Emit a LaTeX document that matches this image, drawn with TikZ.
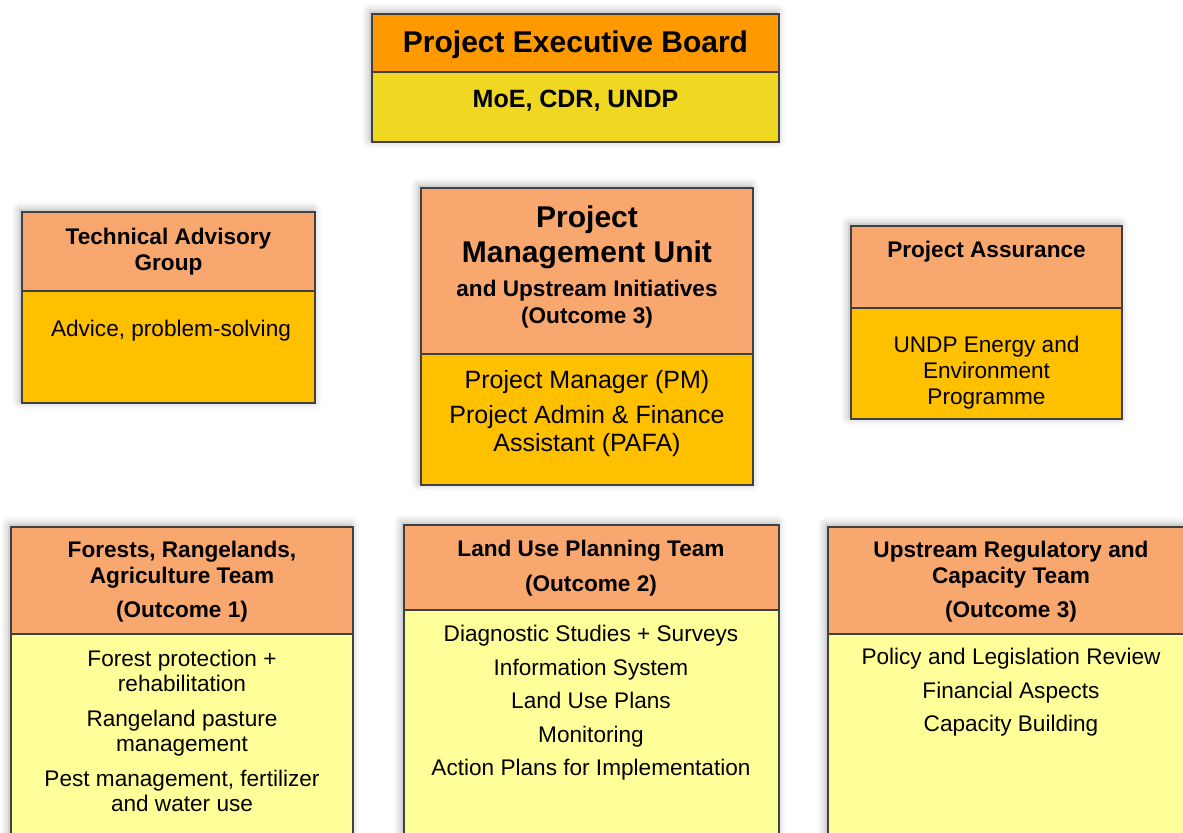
\documentclass[tikz,border=0pt]{standalone}
\usepackage{fontspec}
\setmainfont{Liberation Sans}
\usetikzlibrary{fit,shadows.blur}

\definecolor{boardorange}{HTML}{FF9900}
\definecolor{boardgold}{HTML}{EFD722}
\definecolor{salmon}{HTML}{F8A86E}
\definecolor{amber}{HTML}{FFC000}
\definecolor{paleyellow}{HTML}{FFFF99}

\tikzset{
  unitbox/.style={draw=black!75, line width=0.7pt, inner sep=0pt,
    blur shadow={shadow xshift=-1pt, shadow yshift=1pt, shadow blur radius=4pt, shadow opacity=35}},
  unithead/.style={draw=black!75, line width=0.7pt, inner sep=0pt},
  txt/.style={anchor=north, inner sep=0pt, align=center},
  hd/.style={font=\bfseries\fontsize{11.3}{13}\selectfont},
  bd/.style={font=\fontsize{11.3}{13}\selectfont}
}

\begin{document}
\begin{tikzpicture}[x=0.5pt, y=-0.5pt]
    \useasboundingbox (0,0) rectangle (1183,833);

    % Boxes
    \foreach \name/\xa/\ya/\xb/\ym/\yb/\hcol/\bcol in {
      peb/372/14/779/72/142/boardorange/boardgold,
      tag/22/212/315/291/403/salmon/amber,
      pmu/421/188/753/354/485/salmon/amber,
      pa/851/226/1122/308/419/salmon/amber,
      fra/11/527/353/634/850/salmon/paleyellow,
      lup/404/525/779/610/850/salmon/paleyellow,
      urc/828/527/1195/634/850/salmon/paleyellow}
    {
      \node[unitbox, fill=\bcol, fit={(\xa,\ya) (\xb,\yb)}] (\name) {};
      \node[unithead, fill=\hcol, fit={(\xa,\ya) (\xb,\ym)}] (\name Head) {};
    }

    % Texts
    \node[txt, font=\bfseries\fontsize{15}{17.5}\selectfont] (pebTitle) at (575.5,30) {Project Executive Board};
    \node[txt, font=\bfseries\fontsize{12.5}{15}\selectfont] (pebText) at (575.5,90) {MoE, CDR, UNDP};

    \node[txt, hd] (tagTitle) at (168.5,228) {Technical Advisory\\Group};
    \node[txt, bd] (tagText) at (171,320) {Advice, problem-solving};

    \node[txt, font=\bfseries\fontsize{15}{17.5}\selectfont] (pmuTitle) at (587,205) {Project\\Management Unit};
    \node[txt, font=\bfseries\fontsize{11.3}{13.5}\selectfont] (pmuSub) at (587,280) {and Upstream Initiatives\\(Outcome 3)};
    \node[txt, font=\fontsize{12.5}{14}\selectfont] (pmuText) at (587,370) {Project Manager (PM)\\[3.5pt]Project Admin \& Finance\\Assistant (PAFA)};

    \node[txt, hd] (paTitle) at (986.5,241) {Project Assurance};
    \node[txt, bd] (paText) at (986.5,336) {UNDP Energy and\\Environment\\Programme};

    \node[txt, hd] (fraTitle) at (182,541) {Forests, Rangelands,\\Agriculture Team\\[4pt](Outcome 1)};
    \node[txt, font=\fontsize{11.3}{12.5}\selectfont] (fraText) at (182,650) {Forest protection +\\rehabilitation\\[5pt]Rangeland pasture\\management\\[5pt]Pest management, fertilizer\\and water use};

    \node[txt, hd] (lupTitle) at (591,540) {Land Use Planning Team\\[4.5pt](Outcome 2)};
    \node[txt, font=\fontsize{11.3}{16.75}\selectfont] (lupText) at (591,625) {Diagnostic Studies + Surveys\\Information System\\Land Use Plans\\Monitoring\\Action Plans for Implementation};

    \node[txt, hd] (urcTitle) at (1011,541) {Upstream Regulatory and\\Capacity Team\\[4pt](Outcome 3)};
    \node[txt, font=\fontsize{11.3}{16.75}\selectfont] (urcText) at (1011,648) {Policy and Legislation Review\\Financial Aspects\\Capacity Building};
\end{tikzpicture}
\end{document}
